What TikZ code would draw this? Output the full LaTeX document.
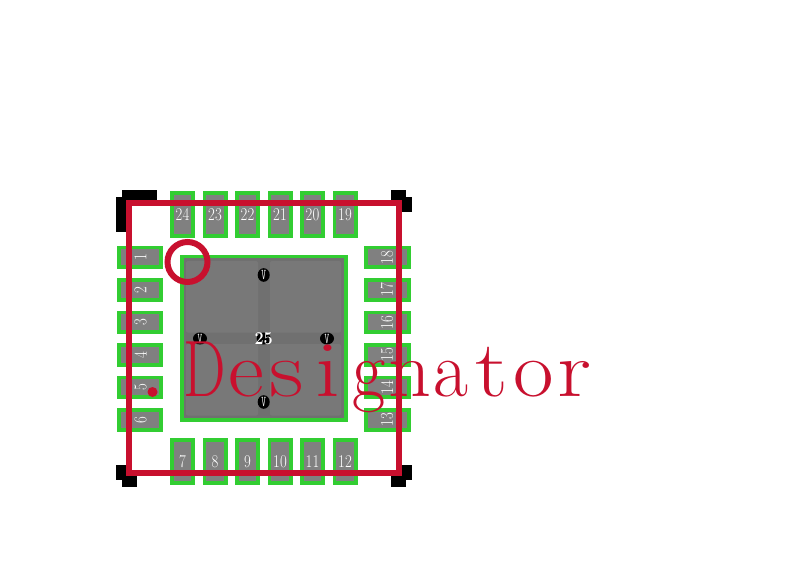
\documentclass[tikz,border=0pt]{standalone}
\usepackage{fontspec}
\definecolor{padgray}{HTML}{808080}
\definecolor{epgray}{HTML}{707070}
\definecolor{quadgray}{HTML}{787878}
\definecolor{padgreen}{HTML}{32CD32}
\definecolor{silk}{HTML}{C8102E}
\newcommand{\narrownum}[1]{\scalebox{0.82}[1]{#1}}
\newcommand{\gl}[2]{\makebox[41pt][c]{\scalebox{#1}[1]{#2}}}
\tikzset{
  padbox/.style={draw=padgreen,fill=padgray,line width=3.8pt},
  padnum/.style={text=white,font=\fontsize{18}{18}\selectfont,inner sep=0pt},
  via/.style={fill=black,draw=none},
  vianum/.style={text=white,font=\fontsize{15}{15}\selectfont\ttfamily,inner sep=0pt},
  silkline/.style={draw=silk,line width=6pt},
  courtyard/.style={fill=black,draw=none}
}
\begin{document}
\begin{tikzpicture}[x=1pt,y=-1pt]
\useasboundingbox (0,0) rectangle (800,567);
\fill[white] (0,0) rectangle (800,567);
% courtyard corners
\fill[courtyard] (122.3,190) rectangle (156.7,206);
\fill[courtyard] (116,197) rectangle (132,231.7);
\fill[courtyard] (390.7,190) rectangle (406,206);
\fill[courtyard] (396,197) rectangle (411.7,211.7);
\fill[courtyard] (116,465) rectangle (132,480);
\fill[courtyard] (122.3,471) rectangle (137,486.7);
\fill[courtyard] (396,465) rectangle (411.7,480);
\fill[courtyard] (390.7,471) rectangle (406,486.5);
% top and bottom pads
\foreach \n/\x/\m in {24/182.5/7,23/215/8,22/247.5/9,21/280/10,20/312.5/11,19/345/12}{
  \draw[padbox] (\x-10.6,192.9) rectangle (\x+10.6,236.2);
  \node[padnum] (p\n) at (\x,214.5) {\narrownum{\n}};
  \draw[padbox] (\x-10.6,439.9) rectangle (\x+10.6,483.2);
  \node[padnum] (p\m) at (\x,462) {\narrownum{\m}};
}
% left and right pads
\foreach \n/\y/\m in {1/257.3/18,2/289.8/17,3/322.3/16,4/354.8/15,5/387.3/14,6/419.8/13}{
  \draw[padbox] (118.9,\y-9.9) rectangle (161.2,\y+9.9);
  \node[padnum,rotate=90] (p\n) at (140.5,\y) {\narrownum{\n}};
  \draw[padbox] (365.9,\y-9.9) rectangle (409.2,\y+9.9);
  \node[padnum,rotate=90] (p\m) at (387,\y) {\narrownum{\m}};
}
% exposed pad
\draw[draw=padgreen,fill=epgray,line width=3.6pt] (181.8,256.5) rectangle (345.9,420.2);
\foreach \a/\b in {186/258,270/341}{
  \foreach \c/\d in {261/332.7,344/415.7}{
    \fill[quadgray,rounded corners=2pt] (\a,\c) rectangle (\b,\d);
  }
}
% vias
\foreach \i/\x/\y/\rx/\ry in {a/263.7/275/6/6.8,b/200/338.5/7/6,c/327/338.5/7/6,d/263.7/402/6/6.8}{
  \fill[via] (\x,\y) ellipse [x radius=\rx, y radius=\ry];
  \node[vianum] (v\i) at (\x,\y) {\scalebox{0.6}[1]{V}};
}
\fill[via] (263.7,338.5) ellipse [x radius=7, y radius=6];
\node[padnum] (p25) at (263.7,338.5) {\scalebox{0.9}[1]{\textbf{25}}};
% silkscreen
\draw[silkline,line join=miter] (129,203) rectangle (398.5,473);
\draw[silkline] (187.5,262) circle (20);
\fill[silk] (152.5,392) circle (5);
\node[anchor=base west,inner sep=0pt,text=silk,font=\fontsize{80}{80}\selectfont] (des) at (184.5,396.7) {\gl{0.75}{D}\gl{1.1}{e}\gl{1.2}{s}\gl{1.25}{i}\gl{0.9}{g}\gl{1.05}{n}\gl{0.95}{a}\gl{1.15}{t}\gl{1.1}{o}\gl{1.2}{r}};
\end{tikzpicture}
\end{document}
